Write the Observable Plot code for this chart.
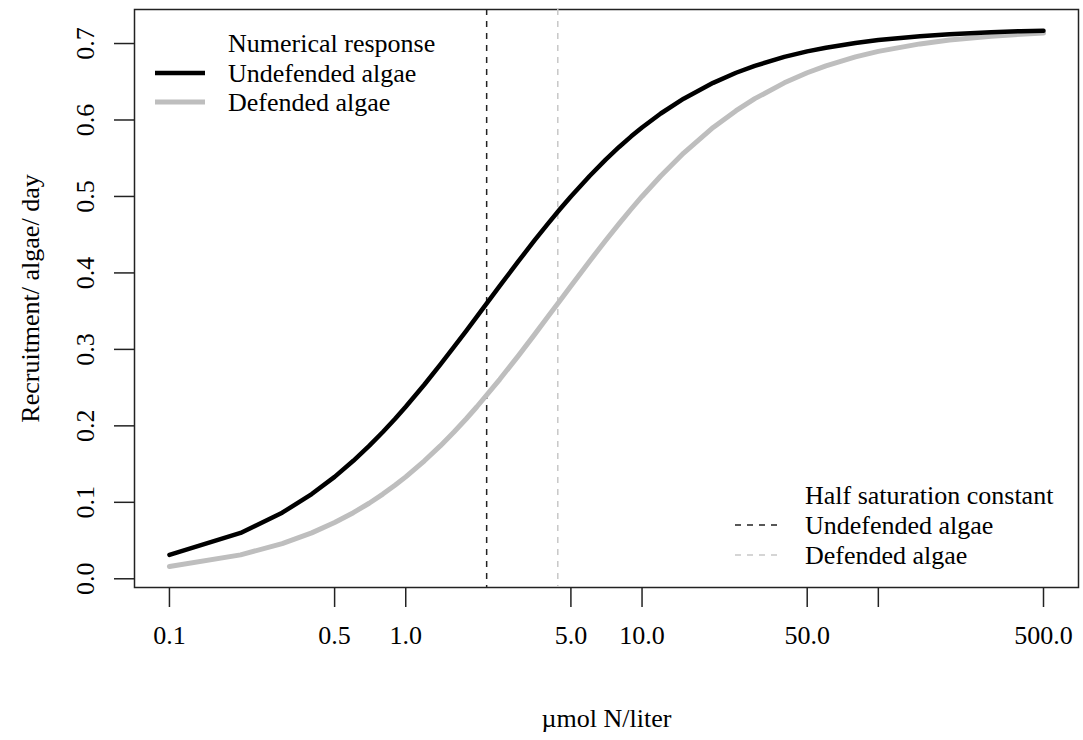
<!DOCTYPE html>
<html><head><meta charset="utf-8">
<script src="https://cdn.jsdelivr.net/npm/d3@7"></script>
<script src="https://cdn.jsdelivr.net/npm/@observablehq/plot@0.6"></script>
<style>body{margin:0;background:#fff}</style>
</head><body><div id="chart"></div>
<script>
// nitrogen concentration (µmol N/liter)
const nitrogen = [0.1,0.2,0.3,0.4,0.5,0.6,0.7,0.8,0.9,1.0,1.2,1.4,1.6,1.8,2.0,2.5,3,3.5,4,4.5,5,6,7,8,9,10,12,15,20,25,30,40,50,60,80,100,150,200,300,400,500];
// recruitment / algae / day
const undefended = [0.0313,0.0600,0.0864,0.1108,0.1333,0.1543,0.1738,0.1920,0.2090,0.2250,0.2541,0.2800,0.3032,0.3240,0.3429,0.3830,0.4154,0.4421,0.4645,0.4836,0.5000,0.5268,0.5478,0.5647,0.5786,0.5902,0.6085,0.6279,0.6486,0.6618,0.6708,0.6825,0.6897,0.6945,0.7007,0.7045,0.7096,0.7122,0.7148,0.7161,0.7168];
const defended = [0.0160,0.0313,0.0460,0.0600,0.0735,0.0864,0.0988,0.1108,0.1223,0.1333,0.1543,0.1738,0.1920,0.2090,0.2250,0.2609,0.2919,0.3190,0.3429,0.3640,0.3830,0.4154,0.4421,0.4645,0.4836,0.5000,0.5268,0.5567,0.5902,0.6122,0.6279,0.6486,0.6618,0.6708,0.6825,0.6897,0.6995,0.7045,0.7096,0.7122,0.7137];
// half saturation constants
const halfSatNames = ["Undefended algae", "Defended algae"];
const halfSatValues = [2.2, 4.4];
// ticks
const xTicks = [0.1, 0.5, 1, 5, 10, 50, 100, 500];
const xTickLabels = ["0.1", "0.5", "1.0", "5.0", "10.0", "50.0", "", "500.0"];
const yTicks = [0, 0.1, 0.2, 0.3, 0.4, 0.5, 0.6, 0.7];
const yTickLabels = ["0.0", "0.1", "0.2", "0.3", "0.4", "0.5", "0.6", "0.7"];
const xTitle = "µmol N/liter";
const yTitle = "Recruitment/ algae/ day";

const rows = nitrogen.map((n, i) => ({n, u: undefended[i], d: defended[i]}));
const halfSat = halfSatValues.map((k, i) => ({name: halfSatNames[i], k}));

const W = 1083, H = 740, mL = 134, mR = 5, mT = 9, mB = 153;
const FONT = '"Liberation Serif", "Times New Roman", serif';
const BLACK = "#000", GREY = "#bebebe", GREY_DASH = "#c8c8c8";

const svg = Plot.plot({
  width: W, height: H,
  marginLeft: mL, marginRight: mR, marginTop: mT, marginBottom: mB,
  style: {fontFamily: FONT, fontSize: "26px", color: "#000", background: "#fff", overflow: "visible"},
  x: {type: "log", domain: [0.07114, 703.2]},
  y: {domain: [-0.0114, 0.7445]},
  marks: [
    Plot.frame({stroke: "#222", strokeWidth: 1.5}),
    Plot.axisX({ticks: xTicks, tickSize: 20, strokeWidth: 1.5, stroke: "#222",
      tickFormat: () => "", label: null}),
    Plot.text(xTicks, {x: d => d, text: (d, i) => xTickLabels[i], frameAnchor: "bottom", dy: 48,
      textAnchor: "middle", lineAnchor: "middle", fontSize: 26}),
    Plot.axisY({ticks: yTicks, tickSize: 20, strokeWidth: 1.5, stroke: "#222",
      tickFormat: () => "", label: null}),
    Plot.text(yTicks, {y: d => d, text: (d, i) => yTickLabels[i], frameAnchor: "left", dx: -49,
      rotate: -90, textAnchor: "middle", lineAnchor: "middle", fontSize: 26}),
    Plot.ruleX(halfSat, {x: "k", stroke: (d, i) => i === 0 ? "#222" : GREY_DASH, strokeDasharray: "6,6", strokeWidth: 1.5}),
    Plot.line(rows, {x: "n", y: "d", stroke: GREY, strokeWidth: 5}),
    Plot.line(rows, {x: "n", y: "u", stroke: BLACK, strokeWidth: 4.5}),
    Plot.text([xTitle], {text: d => d, frameAnchor: "bottom", dy: 131, lineAnchor: "middle", fontSize: 26}),
    Plot.text([yTitle], {text: d => d, frameAnchor: "left", dx: -104, rotate: -90, textAnchor: "middle", lineAnchor: "middle", fontSize: 26})
  ]
});

// Legends (R-style, inside the plot frame)
const g = d3.select(svg).append("g").attr("font-family", FONT).attr("font-size", 26)
  .attr("fill", "#000").attr("text-anchor", "start");
function legend(x0, lineX1, lineX2, rowsY, title, items) {
  g.append("text").attr("x", x0).attr("y", rowsY[0]).attr("dominant-baseline", "central").text(title);
  items.forEach((it, i) => {
    const y = rowsY[i + 1];
    g.append("line").attr("x1", lineX1).attr("x2", lineX2).attr("y1", y).attr("y2", y)
      .attr("stroke", it.stroke).attr("stroke-width", it.width).attr("stroke-dasharray", it.dash || null);
    g.append("text").attr("x", x0).attr("y", y).attr("dominant-baseline", "central").text(it.label);
  });
}
legend(mL + 94, mL + 21, mL + 71, [mT + 34, mT + 64, mT + 93], "Numerical response", [
  {label: "Undefended algae", stroke: BLACK, width: 4.5},
  {label: "Defended algae", stroke: GREY, width: 5}
]);
const bottom = H - mB;
legend(805, 735, 781, [bottom - 92, bottom - 62, bottom - 32], "Half saturation constant", [
  {label: halfSatNames[0], stroke: "#222", width: 1.5, dash: "6,6"},
  {label: halfSatNames[1], stroke: GREY_DASH, width: 1.5, dash: "6,6"}
]);

document.getElementById("chart").appendChild(svg);
</script>
</body></html>
